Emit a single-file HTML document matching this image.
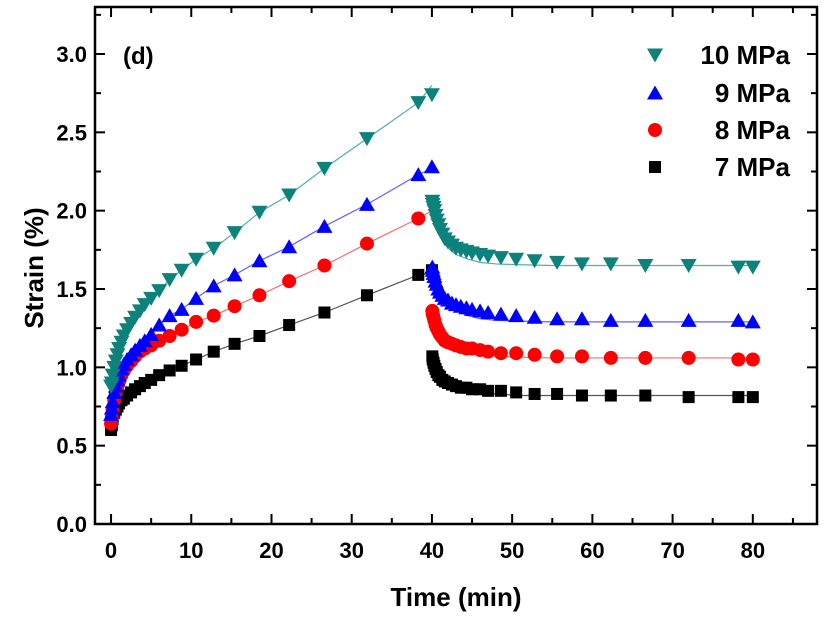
<!DOCTYPE html>
<html><head><meta charset="utf-8"><style>
body{margin:0;background:#fff}
svg{display:block;font-family:"Liberation Sans",Arial,sans-serif;font-weight:bold}
</style></head><body>
<svg id="chart" width="828" height="625" viewBox="0 0 828 625" xmlns="http://www.w3.org/2000/svg"></svg>
<script>
const loadTimes=[0,0.1,0.2,0.4,0.6,0.8,1,1.3,1.6,2,2.5,3,3.6,4.2,5,6,7.3,8.8,10.6,12.8,15.4,18.5,22.2,26.6,31.9,38.3,40];
const unloadTimes=[40.05,40.1,40.2,40.3,40.45,40.6,40.8,41,41.3,41.6,42,42.5,43,43.6,44.3,45,46,47,48.6,50.5,52.8,55.6,58.7,62.3,66.6,72,78.2,80];
const fitTimes=[40,40.3,40.7,41.2,42,43,44.5,46,48,51,55,80];
const load10=[0.88,0.9,0.95,1.0,1.04,1.08,1.12,1.16,1.2,1.24,1.28,1.32,1.36,1.4,1.44,1.49,1.56,1.62,1.69,1.76,1.86,1.99,2.1,2.27,2.46,2.69,2.74];
const load9=[0.7,0.74,0.78,0.84,0.88,0.92,0.95,0.99,1.02,1.05,1.08,1.11,1.14,1.17,1.21,1.27,1.33,1.37,1.44,1.52,1.59,1.68,1.77,1.9,2.04,2.23,2.28];
const load8=[0.64,0.68,0.73,0.79,0.84,0.88,0.91,0.95,0.98,1.01,1.04,1.07,1.1,1.12,1.14,1.17,1.2,1.24,1.29,1.33,1.39,1.46,1.55,1.65,1.79,1.95,null];
const load7=[0.6,0.63,0.67,0.71,0.73,0.75,0.77,0.79,0.8,0.82,0.84,0.86,0.88,0.9,0.92,0.95,0.98,1.01,1.05,1.1,1.15,1.2,1.27,1.35,1.46,1.59,1.62];
const un10=[2.06,2.04,2.02,2.0,1.97,1.94,1.91,1.88,1.85,1.82,1.8,1.78,1.76,1.75,1.74,1.73,1.72,1.71,1.7,1.69,1.68,1.67,1.66,1.66,1.65,1.65,1.64,1.64];
const un9=[1.64,1.62,1.6,1.58,1.55,1.53,1.5,1.48,1.46,1.44,1.43,1.41,1.4,1.39,1.38,1.37,1.36,1.35,1.34,1.33,1.32,1.31,1.31,1.3,1.3,1.3,1.3,1.29];
const un8=[1.36,1.34,1.32,1.3,1.27,1.25,1.23,1.21,1.19,1.17,1.16,1.15,1.14,1.13,1.12,1.12,1.11,1.1,1.09,1.09,1.08,1.07,1.07,1.06,1.06,1.06,1.05,1.05];
const un7=[1.07,1.05,1.03,1.01,0.99,0.97,0.95,0.94,0.92,0.91,0.9,0.89,0.88,0.87,0.87,0.86,0.86,0.85,0.85,0.84,0.83,0.83,0.82,0.82,0.82,0.81,0.81,0.81];
const fit10=[2.03,1.95,1.88,1.82,1.76,1.72,1.69,1.67,1.66,1.655,1.65,1.65];
const fit9=[1.62,1.55,1.49,1.44,1.39,1.36,1.33,1.31,1.3,1.295,1.29,1.29];
const fit8=[1.35,1.28,1.22,1.18,1.14,1.11,1.09,1.08,1.07,1.065,1.06,1.06];
const fit7=[1.06,1.0,0.95,0.92,0.89,0.87,0.85,0.84,0.83,0.82,0.82,0.82];
const loadFitEnd=[2.8,2.27,2.0,1.6];
const seriesNames=["10 MPa","9 MPa","8 MPa","7 MPa"];
const xTicks=[0,10,20,30,40,50,60,70,80];
const yTicks=[0.0,0.5,1.0,1.5,2.0,2.5,3.0];

const NS="http://www.w3.org/2000/svg";
const svg=document.getElementById('chart');
const L=95,R=817,T=7,B=524,xmin=-2,xmax=88,ymin=0,ymax=3.3;
const X=v=>L+(v-xmin)/(xmax-xmin)*(R-L);
const Y=v=>B-(v-ymin)/(ymax-ymin)*(B-T);
function el(tag,attrs,parent){const e=document.createElementNS(NS,tag);for(const k in attrs)e.setAttribute(k,attrs[k]);(parent||svg).appendChild(e);return e;}

const styles=[
 {m:'down',c:'#0d827b',l:'#4fb0a9'},
 {m:'up',c:'#0000ff',l:'#6060ff'},
 {m:'circle',c:'#ff0000',l:'#ff6a6a'},
 {m:'square',c:'#000000',l:'#555555'}];
const loads=[load10,load9,load8,load7],uns=[un10,un9,un8,un7],fits=[fit10,fit9,fit8,fit7];

function marker(g,type,x,y,c){
 let e;
 if(type==='square'){e=el('rect',{x:x-6,y:y-6,width:12,height:12,fill:c},g);}
 else if(type==='circle'){e=el('circle',{cx:x,cy:y,r:7,fill:c},g);}
 else if(type==='up'){e=el('polygon',{points:`${x},${y-7.5} ${x-8},${y+6.5} ${x+8},${y+6.5}`,fill:c},g);}
 else {e=el('polygon',{points:`${x},${y+7.5} ${x-8},${y-6.5} ${x+8},${y-6.5}`,fill:c},g);}
 
 
}

const axes=el('g',{});


for(let v=0;v<=85;v+=5){
 const x=X(v),len=(v%10===0)?10:6;
 el('line',{x1:x,y1:B,x2:x,y2:B-len,stroke:'#000','stroke-width':2},axes);
 el('line',{x1:x,y1:T,x2:x,y2:T+len,stroke:'#000','stroke-width':2},axes);
}
for(let i=0;i<=13;i++){
 const v=i*0.25,y=Y(v),len=(i%2===0)?10:6;
 el('line',{x1:L,y1:y,x2:L+len,y2:y,stroke:'#000','stroke-width':2},axes);
 el('line',{x1:R,y1:y,x2:R-len,y2:y,stroke:'#000','stroke-width':2},axes);
}
xTicks.forEach(v=>{const t=el('text',{x:X(v),y:558,'text-anchor':'middle','font-size':22},axes);t.textContent=v;});
yTicks.forEach(v=>{const t=el('text',{x:87,y:Y(v)+8,'text-anchor':'end','font-size':22},axes);t.textContent=v.toFixed(1);});
const xt=el('text',{x:456,y:606,'text-anchor':'middle','font-size':26});xt.textContent='Time (min)';

const yt=el('text',{x:0,y:0,'text-anchor':'middle','font-size':26,transform:'translate(43,268) rotate(-90)'});yt.textContent='Strain (%)';

const pl=el('text',{x:123,y:64,'font-size':24});pl.textContent='(d)';


for(let s=3;s>=0;s--){
 const g=el('g',{});
 
 
 const st=styles[s];
 let pts=[];
 loadTimes.forEach((t,i)=>{if(loads[s][i]!=null&&t>=0.2&&t<40)pts.push(X(t)+','+Y(loads[s][i]));});
 pts.push(X(40)+','+Y(loadFitEnd[s]));
 const l1=el('polyline',{points:pts.join(' '),fill:'none',stroke:st.l,'stroke-width':1.2},g);
 
 const p2=fitTimes.map((t,i)=>X(t)+','+Y(fits[s][i])).join(' ');
 const l2=el('polyline',{points:p2,fill:'none',stroke:st.l,'stroke-width':1.2},g);
 
 loadTimes.forEach((t,i)=>{if(loads[s][i]!=null)marker(g,st.m,X(t),Y(loads[s][i]),st.c);});
 unloadTimes.forEach((t,i)=>marker(g,st.m,X(t),Y(uns[s][i]),st.c));
}
el('rect',{x:L,y:T,width:R-L,height:B-T,fill:'none',stroke:'#000','stroke-width':2.5},axes);
svg.appendChild(axes);

const lg=el('g',{});


const ly=[55,93,130,167];
seriesNames.forEach((n,i)=>{
 const e=el('g',{},lg);
 
 
 marker(e,styles[i].m,655,ly[i],styles[i].c);
 const t=el('text',{x:790,y:ly[i]+9,'text-anchor':'end','font-size':26},e);t.textContent=n;
});
</script>
</body></html>
